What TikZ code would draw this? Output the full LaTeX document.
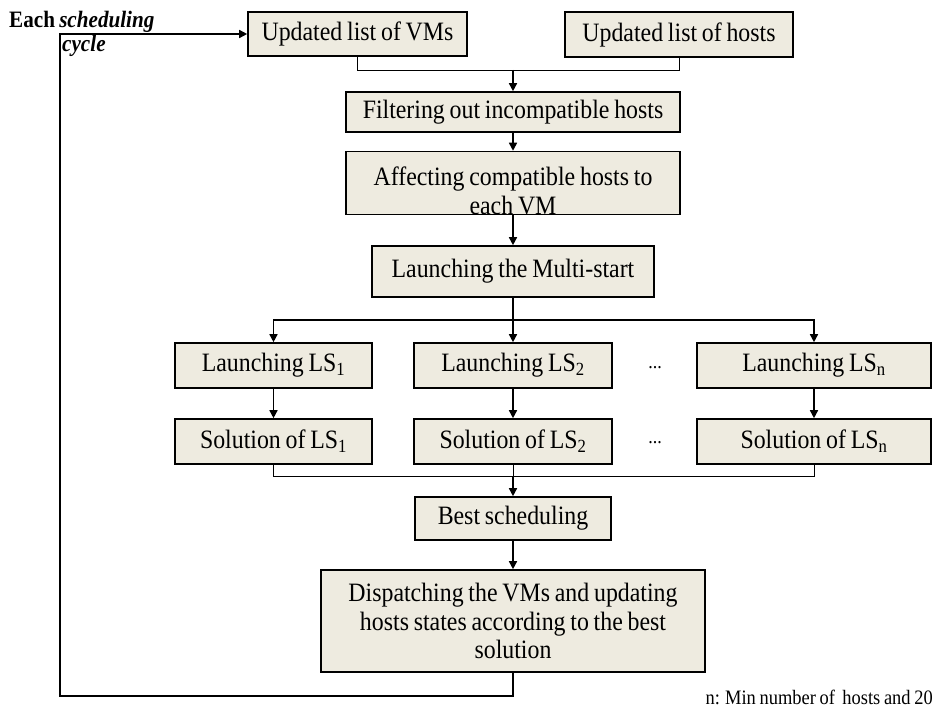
\documentclass[tikz,border=0pt]{standalone}
\usepackage{fontspec}
\setmainfont{Liberation Serif}[FakeStretch=0.9,WordSpace=0.8]
\usetikzlibrary{arrows.meta}
\definecolor{boxfill}{RGB}{238,235,224}
\begin{document}
\begin{tikzpicture}[x=1pt,y=-1pt,
  box/.style={draw=black,line width=1.6pt,fill=boxfill,inner sep=0pt,align=center,
    font=\fontsize{26.5}{28.5}\selectfont},
  arr/.style={line width=1.5pt,-{Triangle[length=8pt,width=8pt]}},
  ln/.style={line width=1.5pt},
  thinln/.style={line width=0.9pt}]
\useasboundingbox (0,0) rectangle (938,711);
\node[box,minimum width=219pt,minimum height=44pt] (vms) at (357.5,34) {Updated list of VMs};
\node[box,minimum width=228pt,minimum height=45pt] (hosts) at (679,34.5) {Updated list of hosts};
\node[box,minimum width=334pt,minimum height=40pt] (filt) at (513,112) {Filtering out incompatible hosts};
\node[box,minimum width=334pt,minimum height=62pt] (aff) at (513,183) {\rule{0pt}{34pt}Affecting compatible hosts to\\each VM};
\node[box,minimum width=282pt,minimum height=51pt] (ms) at (513,271.5) {Launching the Multi-start};
\node[box,minimum width=197pt,minimum height=45pt] (l1) at (273.5,365.5) {Launching LS\textsubscript{1}};
\node[box,minimum width=198pt,minimum height=45pt] (l2) at (513,365.5) {Launching LS\textsubscript{2}};
\node[box,minimum width=234pt,minimum height=45pt] (ln) at (814,365.5) {Launching LS\textsubscript{n}};
\node[box,minimum width=197pt,minimum height=45pt] (s1) at (273.5,441.5) {Solution of LS\textsubscript{1}};
\node[box,minimum width=198pt,minimum height=45pt] (s2) at (513,441.5) {Solution of LS\textsubscript{2}};
\node[box,minimum width=234pt,minimum height=45pt] (sn) at (814,441.5) {Solution of LS\textsubscript{n}};
\node[box,minimum width=196pt,minimum height=43pt] (best) at (513,518.5) {Best scheduling};
\node[box,minimum width=384pt,minimum height=102pt] (disp) at (513,621) {Dispatching the VMs and updating\\hosts states according to the best\\solution};
\node[font=\fontsize{20}{24}\selectfont] (d1) at (655,368) {...};
\node[font=\fontsize{20}{24}\selectfont] (d2) at (655,443) {...};
\node[anchor=west,inner sep=0pt,font=\fontsize{23.5}{24}\selectfont\bfseries] (each) at (9,22) {Each \textit{scheduling}};
\node[anchor=west,inner sep=0pt,font=\fontsize{23.5}{24}\selectfont\bfseries\itshape] (cyc) at (62,46) {cycle};
\node[anchor=east,inner sep=0pt,font=\fontsize{20.5}{22}\selectfont] (note) at (933,697) {n: Min number of\ \ hosts and 20};
\coordinate (j1) at (513,70);
\coordinate (br) at (513,320);
\coordinate (j2) at (513,476);
\coordinate (fb) at (60,696);
\draw[thinln] (vms.south) |- (j1);
\draw[thinln] (hosts.south) |- (j1);
\draw[arr] (j1) -- (filt.north);
\draw[arr] (filt) -- (aff);
\draw[arr] (aff) -- (ms);
\draw[ln] (ms.south) -- (br);
\draw[arr] (br) -| (l1.north);
\draw[arr] (br) -- (l2.north);
\draw[arr] (br) -| (ln.north);
\draw[arr] (l1) -- (s1);
\draw[arr] (l2) -- (s2);
\draw[arr] (ln) -- (sn);
\draw[thinln] (s1.south) |- (j2);
\draw[thinln] (sn.south) |- (j2);
\draw[thinln] (s2.south) -- (j2);
\draw[arr] (j2) -- (best.north);
\draw[arr] (best) -- (disp);
\draw[arr] (disp.south) |- (fb) |- (vms.west);
\end{tikzpicture}
\end{document}
